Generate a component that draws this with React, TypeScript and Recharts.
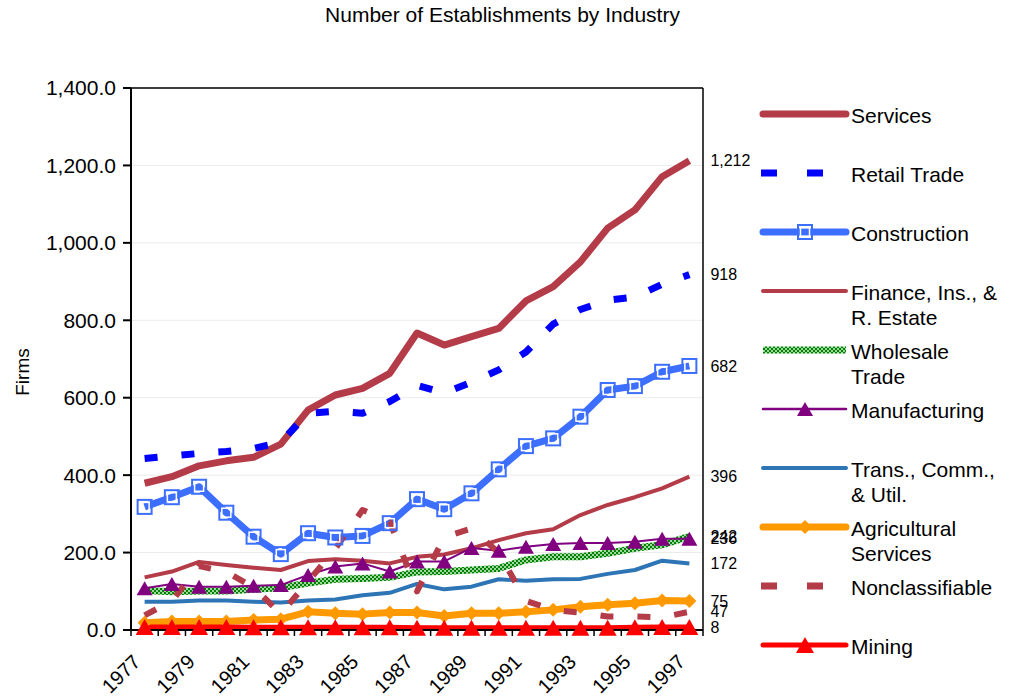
import React from "react";
import {
  LineChart,
  Line,
  XAxis,
  YAxis,
  CartesianGrid,
  Legend,
  ReferenceLine,
} from "recharts";

const FONT = "'Liberation Sans', Arial, Helvetica, sans-serif";

// categories
const years = [
  1977, 1978, 1979, 1980, 1981, 1982, 1983, 1984, 1985, 1986, 1987,
  1988, 1989, 1990, 1991, 1992, 1993, 1994, 1995, 1996, 1997,
];

// series values (establishments)
const services = [379, 396, 424, 437, 446, 480, 568, 607, 624, 663, 767, 736, 758, 779, 850, 887, 951, 1038, 1085, 1171, 1212];
const retail = [443, 450, 456, 461, 469, 485, 560, 565, 560, 590, 632, 612, 640, 672, 718, 790, 828, 852, 860, 893, 918];
const construction = [318, 343, 370, 303, 241, 196, 250, 239, 243, 276, 338, 312, 353, 415, 475, 495, 551, 620, 630, 667, 682];
const finance = [136, 151, 176, 168, 161, 155, 178, 183, 179, 172, 189, 195, 211, 232, 250, 260, 297, 323, 343, 366, 396];
const wholesale = [102, 99, 101, 101, 105, 109, 121, 131, 133, 136, 150, 151, 155, 159, 181, 189, 189, 198, 211, 220, 242];
const manufacturing = [108, 119, 112, 112, 114, 116, 142, 164, 172, 151, 177, 177, 212, 205, 215, 222, 225, 225, 228, 236, 236];
const trans = [73, 73, 76, 76, 73, 71, 76, 79, 90, 96, 119, 105, 112, 131, 127, 131, 132, 145, 155, 179, 172];
const agri = [19, 22, 22, 22, 26, 28, 47, 43, 41, 45, 45, 36, 43, 43, 47, 52, 60, 65, 69, 76, 75];
const nonclass = [38, 75, 165, 150, 110, 42, 125, 210, 310, 280, 100, 240, 262, 200, 75, 52, 45, 35, 35, 33, 47];
const mining = [8, 8, 8, 8, 7, 7, 7, 7, 7, 7, 6, 6, 6, 6, 6, 6, 6, 6, 7, 8, 8];

// tick labels
const yTicks = [0, 200, 400, 600, 800, 1000, 1200, 1400];
const labelYears = years.filter((_, i) => i % 2 === 0);

const data = years.map((year, i) => ({
  year,
  services: services[i],
  retail: retail[i],
  construction: construction[i],
  finance: finance[i],
  wholesale: wholesale[i],
  manufacturing: manufacturing[i],
  trans: trans[i],
  agri: agri[i],
  nonclass: nonclass[i],
  mining: mining[i],
}));

const RED = "#B43B48";
const CHECKER = "url(#checker)";

type Marker = "none" | "square" | "triangle" | "diamond" | "bigTriangle";

const series: {
  key: string;
  name: string[];
  color: string;
  width: number;
  dash?: string;
  marker: Marker;
}[] = [
  { key: "services", name: ["Services"], color: RED, width: 7, marker: "none" },
  { key: "retail", name: ["Retail Trade"], color: "#0000FF", width: 7, dash: "13 24", marker: "none" },
  { key: "construction", name: ["Construction"], color: "#3C6EFF", width: 7, marker: "square" },
  { key: "finance", name: ["Finance, Ins., &", "R. Estate"], color: RED, width: 4, marker: "none" },
  { key: "wholesale", name: ["Wholesale", "Trade"], color: CHECKER, width: 7, marker: "none" },
  { key: "manufacturing", name: ["Manufacturing"], color: "#800080", width: 2, marker: "triangle" },
  { key: "trans", name: ["Trans., Comm.,", "& Util."], color: "#2E75B6", width: 4, marker: "none" },
  { key: "agri", name: ["Agricultural", "Services"], color: "#FF9900", width: 7, marker: "diamond" },
  { key: "nonclass", name: ["Nonclassifiable"], color: RED, width: 6, dash: "13 24", marker: "none" },
  { key: "mining", name: ["Mining"], color: "#FF0000", width: 5, marker: "bigTriangle" },
];

function drawMarker(type: Marker, cx: number, cy: number, color: string, key?: any) {
  if (type === "square") {
    return (
      <g key={key}>
        <rect x={cx - 7} y={cy - 7} width={14} height={14} fill="none" stroke={color} strokeWidth={2} />
        <rect x={cx - 4.5} y={cy - 4.5} width={9} height={9} fill="none" stroke="#fff" strokeWidth={1.5} />
      </g>
    );
  }
  if (type === "triangle") {
    const w = 16, h = 14;
    return <path key={key} d={`M${cx},${cy - h / 2}L${cx + w / 2},${cy + h / 2}L${cx - w / 2},${cy + h / 2}Z`} fill={color} />;
  }
  if (type === "bigTriangle") {
    const w = 18, h = 16;
    return <path key={key} d={`M${cx},${cy - h / 2}L${cx + w / 2},${cy + h / 2}L${cx - w / 2},${cy + h / 2}Z`} fill={color} />;
  }
  if (type === "diamond") {
    const r = 7;
    return <path key={key} d={`M${cx},${cy - r}L${cx + r},${cy}L${cx},${cy + r}L${cx - r},${cy}Z`} fill={color} />;
  }
  return null;
}

const YearTick = (props: any) => {
  const { x, y, payload } = props;
  const v = payload.value;
  if (!Number.isInteger(v)) {
    return <line x1={x} y1={y - 6} x2={x} y2={y} stroke="#000" strokeWidth={1.5} />;
  }
  const tx = x - 3;
  const ty = y + 27;
  return (
    <text
      x={tx}
      y={ty}
      transform={`rotate(-45 ${tx} ${ty})`}
      textAnchor="end"
      fontSize={20}
      fontFamily={FONT}
      fill="#000"
    >
      {v}
    </text>
  );
};

const FirmsLabel = (props: any) => {
  const { viewBox } = props;
  const x = viewBox.x + 22;
  const y = viewBox.y + viewBox.height / 2 + 13;
  return (
    <text x={x} y={y} transform={`rotate(-90 ${x} ${y})`} textAnchor="middle" dy="0.35em" fontSize={19} fontFamily={FONT} fill="#000">
      Firms
    </text>
  );
};

const endLabel = (last: number) => (props: any) => {
  const { x, y, value, index } = props;
  if (index !== last) return null;
  return (
    <text x={x + 21} y={y} dy="0.35em" fontSize={16} fontFamily={FONT} fill="#000">
      {Number(value).toLocaleString("en-US")}
    </text>
  );
};

const LegendBox = () => (
  <svg width={256} height={698} style={{ display: "block" }}>
    <defs>
      <pattern id="checkerLegend" width="4" height="4" patternUnits="userSpaceOnUse">
        <rect width="4" height="4" fill="#9FD89F" />
        <rect width="2" height="2" fill="#008000" />
        <rect x="2" y="2" width="2" height="2" fill="#008000" />
      </pattern>
    </defs>
    {series.map((s, i) => {
      const y = 114 + i * 59;
      const x1 = 6, x2 = 93;
      const color = s.color === CHECKER ? "url(#checkerLegend)" : s.color;
      return (
        <g key={s.key}>
          {s.dash ? (
            <line x1={x1} y1={y} x2={x2} y2={y} stroke={color} strokeWidth={7} strokeDasharray="16 30" />
          ) : (
            <line
              x1={x1 + 2}
              y1={y}
              x2={x2 - 2}
              y2={y}
              stroke={color}
              strokeWidth={s.width === 7 ? 7 : s.width === 2 ? 2.5 : s.width}
              strokeLinecap={s.color === CHECKER ? "butt" : "round"}
            />
          )}
          {drawMarker(s.marker, 50, y, s.color)}
          {s.name.map((ln, j) => (
            <text key={j} x={96} y={y + 2 + j * 25} dy="0.35em" fontSize={21} fontFamily={FONT} fill="#000">
              {ln}
            </text>
          ))}
        </g>
      );
    })}
  </svg>
);

export default function App() {
  const last = years.length - 1;
  return (
    <div style={{ position: "absolute", left: 0, top: 0, width: 1011, height: 698, background: "#fff", fontFamily: FONT }}>
      <div style={{ position: "absolute", left: 0, top: 3, width: 1005, textAlign: "center", fontSize: 21, color: "#000" }}>
        Number of Establishments by Industry
      </div>
      <LineChart width={1011} height={698} data={data} margin={{ top: 88, right: 308, bottom: 0, left: 0 }}>
        <defs>
          <pattern id="checker" width="4" height="4" patternUnits="userSpaceOnUse">
            <rect width="4" height="4" fill="#9FD89F" />
            <rect width="2" height="2" fill="#008000" />
            <rect x="2" y="2" width="2" height="2" fill="#008000" />
          </pattern>
        </defs>
        <CartesianGrid vertical={false} stroke="#ebebeb" />
        <XAxis
          type="number"
          dataKey="year"
          domain={[years[0] - 0.5, years[last] + 0.5]}
          ticks={[...years.map((y) => y - 0.5), years[last] + 0.5, ...labelYears]}
          interval={0}
          allowDecimals
          tick={<YearTick />}
          tickLine={false}
          tickSize={6}
          tickMargin={0}
          axisLine={{ stroke: "#000", strokeWidth: 2 }}
          height={68}
        />
        <YAxis
          domain={[0, 1400]}
          ticks={yTicks}
          interval={0}
          width={131}
          tickSize={8}
          tickMargin={7}
          tickFormatter={(v: number) => v.toLocaleString("en-US", { minimumFractionDigits: 1, maximumFractionDigits: 1 })}
          tick={{ fontSize: 21, fill: "#000", fontFamily: FONT }}
          axisLine={{ stroke: "#000", strokeWidth: 2 }}
          tickLine={{ stroke: "#000", strokeWidth: 2 }}
          label={<FirmsLabel />}
        />
        <ReferenceLine y={1400} stroke="#000" strokeWidth={1.5} />
        <ReferenceLine x={years[last] + 0.5} stroke="#000" strokeWidth={1.5} />
        {series.map((s) => (
          <Line
            key={s.key}
            type="linear"
            dataKey={s.key}
            name={s.name.join(" ")}
            stroke={s.color}
            strokeWidth={s.width}
            strokeDasharray={s.dash}
            strokeLinejoin="round"
            dot={
              s.marker === "none"
                ? false
                : (p: any) => drawMarker(s.marker, p.cx, p.cy, s.color, p.index)
            }
            activeDot={false}
            label={endLabel(last)}
            isAnimationActive={false}
          />
        ))}
        <Legend
          layout="vertical"
          align="center"
          verticalAlign="middle"
          wrapperStyle={{ left: 755, top: 0, width: 256, height: 698 }}
          content={() => <LegendBox />}
        />
      </LineChart>
    </div>
  );
}
